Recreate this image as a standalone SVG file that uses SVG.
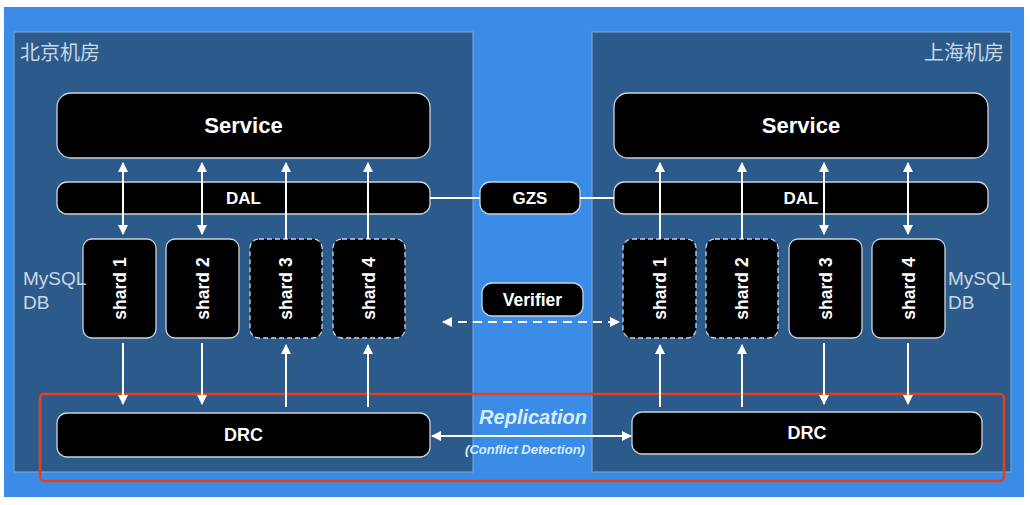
<svg xmlns="http://www.w3.org/2000/svg" width="1030" height="505" viewBox="0 0 1030 505">
<defs>
<marker id="ah" viewBox="0 0 10 10" refX="9" refY="5" markerWidth="10" markerHeight="10" markerUnits="userSpaceOnUse" orient="auto-start-reverse">
<path d="M0,0 L10,5 L0,10 z" fill="#ffffff"/>
</marker>
</defs>
<style>
.panel{fill:#2c5b8b;stroke:#6fa3d6;stroke-width:1.2}
.box{fill:#000;stroke:#c8d4e0;stroke-width:1.3}
.dash{stroke-dasharray:5 3}
.lbl{font-family:"Liberation Sans",Arial,sans-serif;font-weight:bold;fill:#fff;text-anchor:middle}
.cn{font-family:"Noto Sans CJK SC","Noto Sans",sans-serif;font-size:20px;fill:#c9d6e4}
.db{font-family:"Liberation Sans",Arial,sans-serif;font-size:19px;fill:#c9d6e4}
.ln{stroke:#fff;stroke-width:2;fill:none}
.dl{stroke:#fff;stroke-width:2;fill:none;stroke-dasharray:9 6}
.rep{fill:#d8ecff}
</style>
<rect x="0" y="0" width="1030" height="505" fill="#ffffff"/>
<rect x="4" y="7" width="1020" height="490" fill="#3a8ce6"/>
<g id="beijing">
<rect class="panel" x="14" y="32" width="459" height="440"/>
<text class="cn" x="20" y="60">北京机房</text>
</g>
<g id="shanghai">
<rect class="panel" x="592" y="32" width="419" height="440"/>
<text class="cn" x="1004" y="60" text-anchor="end">上海机房</text>
</g>
<g id="service-bj"><rect class="box" x="57" y="93" width="373" height="65" rx="14"/><text class="lbl" x="243.5" y="133" font-size="22">Service</text></g>
<g id="service-sh"><rect class="box" x="614" y="93" width="374" height="65" rx="14"/><text class="lbl" x="801" y="133" font-size="22">Service</text></g>
<g id="dal-bj"><rect class="box" x="57" y="182" width="373" height="32" rx="10"/><text class="lbl" x="243.5" y="204" font-size="17">DAL</text></g>
<g id="dal-sh"><rect class="box" x="614" y="182" width="374" height="32" rx="10"/><text class="lbl" x="801" y="204" font-size="17">DAL</text></g>
<g id="gzs"><rect class="box" x="480" y="182" width="100" height="32" rx="10"/><text class="lbl" x="530" y="204" font-size="17">GZS</text></g>
<g id="verifier"><rect class="box" x="482" y="283" width="101" height="33" rx="10"/><text class="lbl" x="532.5" y="306" font-size="17.5">Verifier</text></g>
<g id="bj-shard1"><rect class="box" x="83" y="239" width="73" height="99" rx="9"/><text class="lbl" font-size="17.5" transform="translate(125.5,288.5) rotate(-90)">shard 1</text></g>
<g id="bj-shard2"><rect class="box" x="166" y="239" width="73" height="99" rx="9"/><text class="lbl" font-size="17.5" transform="translate(208.5,288.5) rotate(-90)">shard 2</text></g>
<g id="bj-shard3"><rect class="box dash" x="250" y="239" width="72" height="99" rx="9"/><text class="lbl" font-size="17.5" transform="translate(292,288.5) rotate(-90)">shard 3</text></g>
<g id="bj-shard4"><rect class="box dash" x="333" y="239" width="72" height="99" rx="9"/><text class="lbl" font-size="17.5" transform="translate(375,288.5) rotate(-90)">shard 4</text></g>
<g id="sh-shard1"><rect class="box dash" x="623" y="239" width="73" height="99" rx="9"/><text class="lbl" font-size="17.5" transform="translate(665.5,288.5) rotate(-90)">shard 1</text></g>
<g id="sh-shard2"><rect class="box dash" x="706" y="239" width="72" height="99" rx="9"/><text class="lbl" font-size="17.5" transform="translate(748,288.5) rotate(-90)">shard 2</text></g>
<g id="sh-shard3"><rect class="box" x="789" y="239" width="73" height="99" rx="9"/><text class="lbl" font-size="17.5" transform="translate(831.5,288.5) rotate(-90)">shard 3</text></g>
<g id="sh-shard4"><rect class="box" x="872" y="239" width="73" height="99" rx="9"/><text class="lbl" font-size="17.5" transform="translate(914.5,288.5) rotate(-90)">shard 4</text></g>
<g id="mysql-bj"><text class="db" x="23" y="285">MySQL</text><text class="db" x="23" y="309">DB</text></g>
<g id="mysql-sh"><text class="db" x="948" y="285">MySQL</text><text class="db" x="948" y="309">DB</text></g>
<g id="drc-bj"><rect class="box" x="57" y="413" width="373" height="44" rx="10"/><text class="lbl" x="243.5" y="441" font-size="18">DRC</text></g>
<g id="drc-sh"><rect class="box" x="632" y="412" width="350" height="42" rx="10"/><text class="lbl" x="807" y="439" font-size="18">DRC</text></g>
<g id="replication">
<rect x="40" y="394" width="964" height="87" rx="4" fill="none" stroke="#e2401e" stroke-width="2.5"/>
<text class="lbl rep" x="533" y="424" font-size="20" font-style="italic">Replication</text>
<text class="lbl rep" x="525" y="454" font-size="13" font-style="italic">(Conflict Detection)</text>
</g>
<g id="connectors">
<line class="ln" x1="430" y1="198" x2="480" y2="198"/>
<line class="ln" x1="580" y1="198" x2="614" y2="198"/>
<line class="ln" x1="123" y1="163" x2="123" y2="234" marker-start="url(#ah)" marker-end="url(#ah)"/>
<line class="ln" x1="202" y1="163" x2="202" y2="234" marker-start="url(#ah)" marker-end="url(#ah)"/>
<line class="ln" x1="286" y1="239" x2="286" y2="163" marker-end="url(#ah)"/>
<line class="ln" x1="368" y1="239" x2="368" y2="163" marker-end="url(#ah)"/>
<line class="ln" x1="660" y1="239" x2="660" y2="163" marker-end="url(#ah)"/>
<line class="ln" x1="742" y1="239" x2="742" y2="163" marker-end="url(#ah)"/>
<line class="ln" x1="824" y1="163" x2="824" y2="234" marker-start="url(#ah)" marker-end="url(#ah)"/>
<line class="ln" x1="908" y1="163" x2="908" y2="234" marker-start="url(#ah)" marker-end="url(#ah)"/>
<line class="ln" x1="123" y1="343" x2="123" y2="404" marker-end="url(#ah)"/>
<line class="ln" x1="202" y1="343" x2="202" y2="404" marker-end="url(#ah)"/>
<line class="ln" x1="286" y1="407" x2="286" y2="345" marker-end="url(#ah)"/>
<line class="ln" x1="368" y1="407" x2="368" y2="345" marker-end="url(#ah)"/>
<line class="ln" x1="660" y1="407" x2="660" y2="345" marker-end="url(#ah)"/>
<line class="ln" x1="742" y1="407" x2="742" y2="345" marker-end="url(#ah)"/>
<line class="ln" x1="824" y1="343" x2="824" y2="404" marker-end="url(#ah)"/>
<line class="ln" x1="908" y1="343" x2="908" y2="404" marker-end="url(#ah)"/>
<line class="dl" x1="443" y1="322" x2="619" y2="322" marker-start="url(#ah)" marker-end="url(#ah)"/>
<line class="ln" x1="432" y1="436" x2="631" y2="436" marker-start="url(#ah)" marker-end="url(#ah)"/>
</g>
</svg>
